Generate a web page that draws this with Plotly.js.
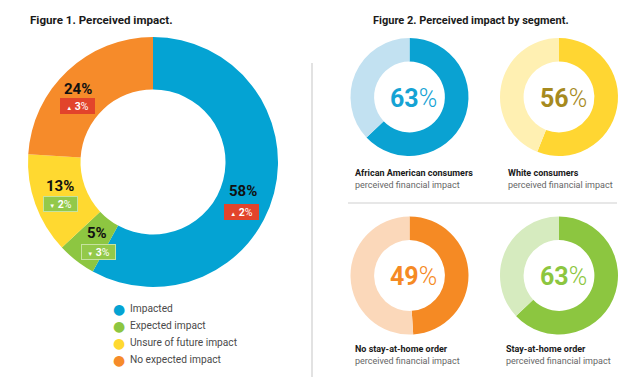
<!DOCTYPE html>
<html><head><meta charset="utf-8">
<script src="https://cdn.plot.ly/plotly-3.0.1.min.js"></script>
<style>html,body{margin:0;padding:0;background:#fff}#chart{width:640px;height:381px}</style>
</head><body><div id="chart"></div>
<script>
// ---- data ----
const mainLabels = ['Impacted', 'Expected impact', 'Unsure of future impact', 'No expected impact'];
const mainValues = [58, 5, 13, 24];
const mainChanges = [2, -3, -2, 3];   // change badge values; sign chooses arrow
const mainColors = ['#04A3D3', '#8DC641', '#FFD930', '#F68B2A'];

const segNames = ['African American consumers', 'White consumers', 'No stay-at-home order', 'Stay-at-home order'];
const segSub = 'perceived financial impact';
const segValues = [63, 56, 49, 63];
const segDark = ['#0AA2D2', '#FFD632', '#F58A24', '#8CC640'];
const segLight = ['#C2E1F1', '#FFF0B2', '#FBD8BA', '#D6EBBF'];
const segText = ['#15A3D4', '#A68A1E', '#F58A24', '#8CC640'];

// ---- layout helpers (pixel -> paper) ----
const W = 640, H = 381;
const px = x => x / W, py = y => 1 - y / H;
const FONT = 'Roboto, "Noto Sans", sans-serif';

const traces = [];
// main donut: centre (153,162), r 125
traces.push({
  type: 'pie', values: mainValues, labels: mainLabels, sort: false,
  direction: 'clockwise', rotation: 0, hole: 0.58,
  marker: {colors: mainColors, line: {width: 0}},
  textinfo: 'none', hoverinfo: 'none', showlegend: false,
  domain: {x: [px(28), px(278)], y: [py(287), py(37)]}
});

// segment donuts
const segCentres = [[409.5, 97], [559, 97], [409.5, 275.5], [559, 275.5]];
const segR = 59;
segValues.forEach((v, i) => {
  const [cx, cy] = segCentres[i];
  traces.push({
    type: 'pie', values: [v, 100 - v], labels: ['a' + i, 'b' + i], sort: false,
    direction: 'clockwise', rotation: 0, hole: 0.6,
    marker: {colors: [segDark[i], segLight[i]], line: {width: 0}},
    textinfo: 'none', hoverinfo: 'none', showlegend: false,
    domain: {x: [px(cx - segR), px(cx + segR)], y: [py(cy + segR), py(cy - segR)]}
  });
});

const ann = [];
// titles
ann.push({text: '<b>Figure 1. Perceived impact.</b>', x: px(28), y: py(20), xanchor: 'left', yanchor: 'middle',
  font: {family: FONT, size: 11.6, color: '#1a1a1a'}, showarrow: false, xref: 'paper', yref: 'paper'});
ann.push({text: '<b>Figure 2. Perceived impact by segment.</b>', x: px(371), y: py(20), xanchor: 'left', yanchor: 'middle',
  font: {family: FONT, size: 11, color: '#1a1a1a'}, showarrow: false, xref: 'paper', yref: 'paper'});

// main slice labels + change badges
const labelPos = [[243, 191, 241, 212], [97, 233, 98, 252], [60, 186, 60, 204], [78, 89, 77, 106]];
mainValues.forEach((v, i) => {
  const [lx, ly, bx, by] = labelPos[i];
  ann.push({text: '<b>' + v + '%</b>', x: px(lx), y: py(ly), xanchor: 'center', yanchor: 'middle',
    font: {family: FONT, size: 15, color: '#111'}, showarrow: false, xref: 'paper', yref: 'paper'});
  const up = mainChanges[i] > 0;
  const arrow = up ? '▲' : '▼';
  ann.push({text: '<span style="font-size:6px">' + arrow + '</span> <b>' + Math.abs(mainChanges[i]) + '</b>%',
    x: px(bx), y: py(by), xanchor: 'center', yanchor: 'middle',
    font: {family: FONT, size: 10.5, color: '#fff'}, showarrow: false, xref: 'paper', yref: 'paper',
    bgcolor: up ? '#E2442B' : '#93C94A', bordercolor: up ? '#E2442B' : '#C6E3A0', borderwidth: 1,
    borderpad: 1, width: 31, height: 12});
});

// legend (circles + labels)
mainLabels.forEach((l, i) => {
  const y = 308.5 + i * 17;
  ann.push({text: '●', x: px(119), y: py(y), xanchor: 'center', yanchor: 'middle',
    font: {family: 'DejaVu Sans', size: 14, color: mainColors[i]}, showarrow: false, xref: 'paper', yref: 'paper'});
  ann.push({text: l, x: px(128), y: py(y), xanchor: 'left', yanchor: 'middle',
    font: {family: FONT, size: 10.2, color: '#4a4a4a'}, showarrow: false, xref: 'paper', yref: 'paper'});
});

// segment centre numbers and captions
const capPos = [[353, 173], [506, 173], [353, 349], [504, 349]];
segValues.forEach((v, i) => {
  const [cx, cy] = segCentres[i];
  ann.push({text: '<b>' + v + '</b><span style="font-weight:300">%</span>', x: px(cx + 4), y: py(cy + 1),
    xanchor: 'center', yanchor: 'middle',
    font: {family: FONT, size: 25, color: segText[i]}, showarrow: false, xref: 'paper', yref: 'paper'});
  const [tx, ty] = capPos[i];
  ann.push({text: '<b>' + segNames[i] + '</b>', x: px(tx), y: py(ty), xanchor: 'left', yanchor: 'middle',
    font: {family: FONT, size: 9, color: '#1a1a1a'}, showarrow: false, xref: 'paper', yref: 'paper'});
  ann.push({text: segSub, x: px(tx), y: py(ty + 12), xanchor: 'left', yanchor: 'middle',
    font: {family: FONT, size: 9, color: '#666'}, showarrow: false, xref: 'paper', yref: 'paper'});
});

const shapes = [
  {type: 'line', xref: 'paper', yref: 'paper', x0: px(312), x1: px(312), y0: py(63), y1: py(377),
    line: {color: '#d9d9d9', width: 1.5}},
  {type: 'line', xref: 'paper', yref: 'paper', x0: px(348), x1: px(617), y0: py(203), y1: py(203),
    line: {color: '#cfcfcf', width: 1}}
];

Plotly.newPlot('chart', traces, {
  width: W, height: H, margin: {l: 0, r: 0, t: 0, b: 0},
  paper_bgcolor: '#fff', plot_bgcolor: '#fff', showlegend: false,
  annotations: ann, shapes: shapes
}, {staticPlot: true, displayModeBar: false});
</script></body></html>
